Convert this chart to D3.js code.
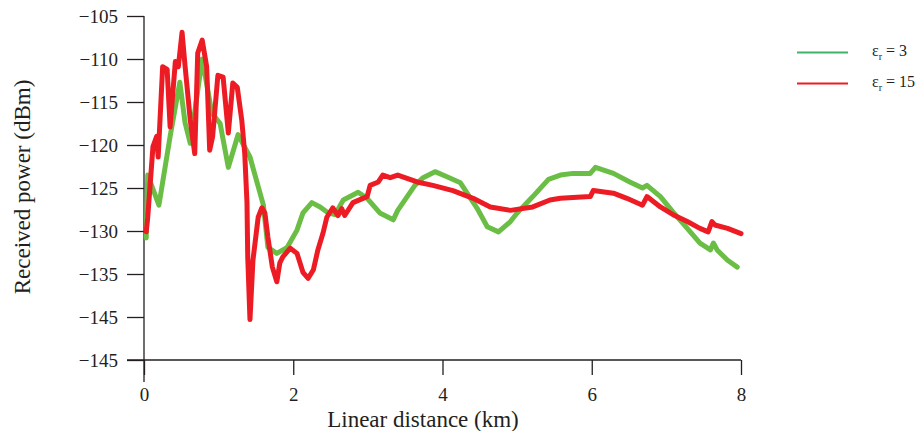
<!DOCTYPE html>
<html>
<head>
<meta charset="utf-8">
<script src="https://cdn.jsdelivr.net/npm/d3@7"></script>
<style>
    body { margin: 0; background: #fff; }
    svg text { font-family: "Liberation Serif", "DejaVu Serif", serif; fill: #231f20; }
</style>
</head>
<body>
<svg id="chart" width="919" height="431"></svg>
<script>
// distance (km) / received power (dBm), er = 3
var greenKm = [0.03, 0.05, 0.20, 0.35, 0.48, 0.55, 0.62, 0.78, 0.91, 1.02, 1.13, 1.26, 1.42, 1.60, 1.66, 1.78, 1.92, 2.05, 2.13, 2.25, 2.36, 2.47, 2.56, 2.67, 2.87, 2.99, 3.16, 3.34, 3.40, 3.63, 3.74, 3.90, 4.06, 4.24, 4.46, 4.60, 4.75, 4.91, 5.00, 5.21, 5.42, 5.58, 5.75, 5.98, 6.05, 6.29, 6.51, 6.68, 6.74, 6.92, 7.09, 7.28, 7.45, 7.59, 7.63, 7.68, 7.82, 7.95];
var greenDbm = [-130.8, -123.5, -127, -119, -112.7, -117.4, -119.8, -110, -116.3, -117.5, -122.6, -118.8, -121.4, -127, -131.9, -132.6, -131.9, -129.9, -127.9, -126.7, -127.2, -127.9, -128.1, -126.4, -125.5, -126.2, -127.9, -128.7, -127.6, -124.7, -123.8, -123.1, -123.7, -124.4, -127.3, -129.5, -130.1, -128.9, -127.9, -126, -124, -123.5, -123.3, -123.3, -122.6, -123.3, -124.3, -125, -124.7, -126, -127.8, -129.7, -131.4, -132.2, -131.4, -132.2, -133.4, -134.2];

// er = 15
var redKm = [0.03, 0.05, 0.12, 0.17, 0.19, 0.25, 0.31, 0.35, 0.42, 0.46, 0.51, 0.55, 0.62, 0.68, 0.72, 0.78, 0.84, 0.88, 0.92, 0.99, 1.06, 1.13, 1.19, 1.25, 1.31, 1.35, 1.38, 1.39, 1.42, 1.46, 1.53, 1.58, 1.62, 1.66, 1.72, 1.78, 1.82, 1.86, 1.96, 2.05, 2.13, 2.20, 2.27, 2.33, 2.40, 2.45, 2.53, 2.60, 2.65, 2.69, 2.80, 2.99, 3.03, 3.14, 3.20, 3.30, 3.40, 3.66, 3.87, 4.14, 4.41, 4.64, 4.91, 5.21, 5.44, 5.58, 5.75, 5.98, 6.02, 6.29, 6.47, 6.68, 6.74, 6.92, 7.09, 7.28, 7.45, 7.56, 7.61, 7.65, 7.82, 8.00];
var redDbm = [-130.1, -128.4, -120.2, -119, -121.4, -110.9, -111.2, -117.9, -110.3, -110.9, -106.9, -110.8, -117.1, -121, -109.3, -107.8, -110.9, -120.6, -119, -111.9, -112.1, -118.6, -112.8, -113.3, -117.1, -121, -126.7, -133, -140.3, -133.4, -128.4, -127.3, -127.9, -130.7, -134.2, -135.9, -133.7, -133, -132, -132.6, -134.8, -135.5, -134.5, -132.2, -130.2, -128.4, -127.3, -128.2, -127.4, -128.2, -126.7, -126, -124.7, -124.3, -123.5, -123.8, -123.5, -124.3, -124.7, -125.3, -126.2, -127.2, -127.6, -127.2, -126.4, -126.2, -126.1, -126, -125.3, -125.6, -126.2, -127, -126, -127.2, -128.1, -128.9, -129.7, -130.1, -128.9, -129.3, -129.7, -130.3];

var xTicks = [0, 2, 4, 6, 8];
var yTicks = [-105, -110, -115, -120, -125, -130, -135, -140, -145];
// the source figure labels its -140 tick as -145 too
var yTickLabels = ['\u2212105', '\u2212110', '\u2212115', '\u2212120', '\u2212125', '\u2212130', '\u2212135', '\u2212145', '\u2212145'];

var seriesNames = ['3', '15'];
var seriesColors = ['#6abe45', '#ed1c24'];
var legendColors = ['#3fb46a', '#ed1c24'];

var svg = d3.select('#chart');

var x = d3.scaleLinear().domain([0, 8]).range([144, 741]),
    y = d3.scaleLinear().domain([-145, -105]).range([360, 16]);

// y axis
var yAxis = svg.append('g')
    .attr('transform', 'translate(144,0)')
    .call(d3.axisLeft(y).tickValues(yTicks).tickSize(17).tickPadding(9)
        .tickFormat(function(d, i) { return yTickLabels[i]; }));
yAxis.select('.domain').remove();
yAxis.selectAll('.tick line').attr('stroke', '#231f20').attr('stroke-width', 1.3);
yAxis.selectAll('.tick text').attr('font-size', 19).attr('fill', '#231f20');
svg.append('line')
    .attr('x1', 144).attr('x2', 144).attr('y1', y(-105)).attr('y2', 382)
    .attr('stroke', '#231f20').attr('stroke-width', 1.3);

// x axis
var xAxis = svg.append('g')
    .attr('transform', 'translate(0,360)')
    .call(d3.axisBottom(x).tickValues(xTicks).tickSize(15).tickPadding(13).tickFormat(d3.format('d')));
xAxis.select('.domain').remove();
xAxis.selectAll('.tick line').attr('stroke', '#231f20').attr('stroke-width', 1.3);
xAxis.selectAll('.tick text').attr('font-size', 19).attr('fill', '#231f20');
svg.append('line')
    .attr('x1', 127).attr('x2', x(8)).attr('y1', 360).attr('y2', 360)
    .attr('stroke', '#231f20').attr('stroke-width', 1.3);

// axis titles
svg.append('text')
    .attr('x', 423).attr('y', 427)
    .attr('text-anchor', 'middle')
    .attr('font-size', 23)
    .text('Linear distance (km)');
svg.append('text')
    .attr('transform', 'translate(30,187) rotate(-90)')
    .attr('text-anchor', 'middle')
    .attr('font-size', 23)
    .text('Received power (dBm)');

// series
var line = d3.line()
    .x(function(d) { return x(d[0]); })
    .y(function(d) { return y(d[1]); });

var series = [d3.zip(greenKm, greenDbm), d3.zip(redKm, redDbm)];
svg.selectAll('path.series')
    .data(series)
    .enter().append('path')
    .attr('class', 'series')
    .attr('d', line)
    .attr('fill', 'none')
    .attr('stroke', function(d, i) { return seriesColors[i]; })
    .attr('stroke-width', 5)
    .attr('stroke-linejoin', 'round')
    .attr('stroke-linecap', 'round');

// legend
var legend = svg.selectAll('g.legend')
    .data(seriesNames)
    .enter().append('g')
    .attr('class', 'legend')
    .attr('transform', function(d, i) { return 'translate(797,' + (52.5 + i * 31) + ')'; });
legend.append('line')
    .attr('x1', 0).attr('x2', 51)
    .attr('stroke', function(d, i) { return legendColors[i]; })
    .attr('stroke-width', 2);
var lt = legend.append('text')
    .attr('x', 75).attr('y', 3)
    .attr('font-size', 16);
lt.append('tspan').text('\u03b5');
lt.append('tspan').attr('font-size', 10).attr('dy', 4).text('r');
lt.append('tspan').attr('dy', -4).text(function(d) { return ' = ' + d; });
</script>
</body>
</html>
